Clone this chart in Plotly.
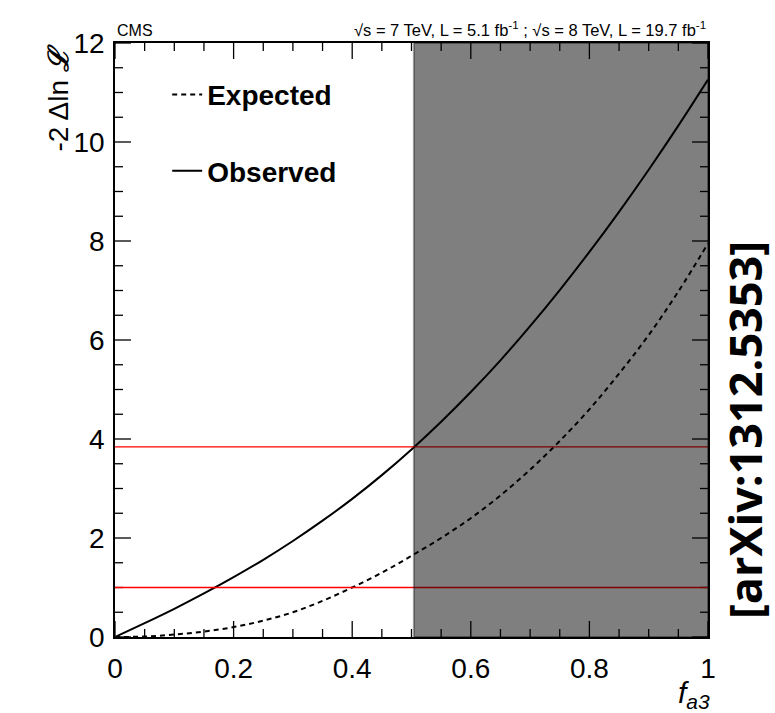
import plotly.graph_objects as go

# ---- data ----
fa3 = [0.0, 0.05, 0.10, 0.15, 0.20, 0.25, 0.30, 0.35, 0.40, 0.45, 0.50,
       0.55, 0.60, 0.65, 0.70, 0.75, 0.80, 0.85, 0.90, 0.95, 1.00]
observed = [0.0, 0.28, 0.57, 0.88, 1.21, 1.56, 1.94, 2.35, 2.79, 3.27, 3.79,
            4.35, 4.95, 5.59, 6.28, 7.01, 7.78, 8.59, 9.44, 10.33, 11.26]
expected = [0.0, 0.01, 0.05, 0.11, 0.20, 0.33, 0.50, 0.73, 1.00, 1.30, 1.64,
            2.00, 2.40, 2.86, 3.38, 3.96, 4.60, 5.32, 6.10, 6.98, 7.95]
thresholds = [1.0, 3.84]
excluded_from = 0.504
excluded_to = 1.0
x_range = [0, 1]
y_range = [0, 12]
x_major_ticks = [0, 0.2, 0.4, 0.6, 0.8, 1]
x_minor_ticks = [0.05, 0.1, 0.15, 0.25, 0.3, 0.35, 0.45, 0.5, 0.55,
                 0.65, 0.7, 0.75, 0.85, 0.9, 0.95]
y_major_ticks = [0, 2, 4, 6, 8, 10, 12]
y_minor_ticks = [0.5, 1, 1.5, 2.5, 3, 3.5, 4.5, 5, 5.5, 6.5, 7, 7.5,
                 8.5, 9, 9.5, 10.5, 11, 11.5]

FONT = "Liberation Sans, Arial, Helvetica, sans-serif"
PLOT_W_PX = 775 - 115 - 67
PLOT_H_PX = 713 - 43 - 76
MAJOR_LEN_PX = 16
MINOR_LEN_PX = 8

fig = go.Figure()

fig.add_trace(go.Scatter(
    x=fa3, y=expected, mode="lines", name="Expected",
    line=dict(color="black", width=2, dash="5px,4px", shape="spline"),
    legendgroup="exp",
))
fig.add_trace(go.Scatter(
    x=fa3, y=observed, mode="lines", name="Observed",
    line=dict(color="black", width=2, shape="spline"),
    legendgroup="obs",
))

# inward frame ticks on all four sides, built from the tick arrays
x_span = x_range[1] - x_range[0]
y_span = y_range[1] - y_range[0]
tx, ty = [], []
for vals, ln in ((x_major_ticks, MAJOR_LEN_PX), (x_minor_ticks, MINOR_LEN_PX)):
    d = ln / PLOT_H_PX * y_span
    for v in vals:
        tx += [v, v, None, v, v, None]
        ty += [y_range[0], y_range[0] + d, None, y_range[1], y_range[1] - d, None]
for vals, ln in ((y_major_ticks, MAJOR_LEN_PX), (y_minor_ticks, MINOR_LEN_PX)):
    d = ln / PLOT_W_PX * x_span
    for v in vals:
        tx += [x_range[0], x_range[0] + d, None, x_range[1], x_range[1] - d, None]
        ty += [v, v, None, v, v, None]
fig.add_trace(go.Scatter(
    x=tx, y=ty, mode="lines", line=dict(color="black", width=1.3),
    showlegend=False, hoverinfo="skip", connectgaps=False, cliponaxis=False,
))

for t in thresholds:
    fig.add_hline(y=t, line=dict(color="red", width=1.3), layer="above")

fig.add_vrect(x0=excluded_from, x1=excluded_to, layer="above",
              fillcolor="rgba(0,0,0,0.5)",
              line=dict(color="rgba(0,0,0,0.35)", width=2))

fig.update_layout(
    xaxis=dict(range=x_range, tickvals=x_major_ticks, tickformat="~g",
               ticks="", showline=True, linecolor="black", linewidth=1.5, mirror=True,
               showgrid=False, zeroline=False, ticklabelstandoff=6,
               tickfont=dict(family=FONT, size=28, color="black")),
    yaxis=dict(range=y_range, tickvals=y_major_ticks,
               ticks="", showline=True, linecolor="black", linewidth=1.5, mirror=True,
               showgrid=False, zeroline=False, ticklabelstandoff=3,
               tickfont=dict(family=FONT, size=28, color="black")),
)

fig.update_layout(
    width=775, height=713,
    margin=dict(l=115, r=67, t=43, b=76),
    paper_bgcolor="white", plot_bgcolor="white",
    font=dict(family=FONT, color="black"),
    showlegend=True,
    legend=dict(
        x=0.088, y=0.955, xanchor="left", yanchor="top",
        bgcolor="rgba(0,0,0,0)",
        font=dict(family=FONT, size=28, color="black", weight="bold"),
        traceorder="grouped", tracegroupgap=37, itemwidth=30,
    ),
    annotations=[
        dict(text="CMS", xref="paper", yref="paper", x=0.0, y=1.0,
             xanchor="left", yanchor="bottom", yshift=2, showarrow=False,
             font=dict(family=FONT, size=16)),
        dict(text="√s = 7 TeV, L = 5.1 fb<sup>-1</sup> ; √s = 8 TeV, L = 19.7 fb<sup>-1</sup>",
             xref="paper", yref="paper", x=1.0, y=1.0,
             xanchor="right", yanchor="bottom", yshift=2, showarrow=False,
             font=dict(family=FONT, size=16.5)),
        dict(text="-2 Δln <b><i>ℒ</i></b>", xref="paper", yref="paper",
             x=-0.096, y=1.0, xanchor="center", yanchor="top", textangle=-90,
             showarrow=False, font=dict(family=FONT, size=28)),
        dict(text="<i>f</i><sub><i>a3</i></sub>", xref="paper", yref="paper",
             x=1.007, y=-0.062, xanchor="right", yanchor="top",
             showarrow=False, font=dict(family=FONT, size=30)),
        dict(text="<b>[arXiv:1312.5353]</b>", xref="paper", yref="paper",
             x=1.062, y=0.348, xanchor="center", yanchor="middle", textangle=-90,
             showarrow=False, font=dict(family="Open Sans, sans-serif", size=45)),
    ],
)

fig.write_html("out.html")
